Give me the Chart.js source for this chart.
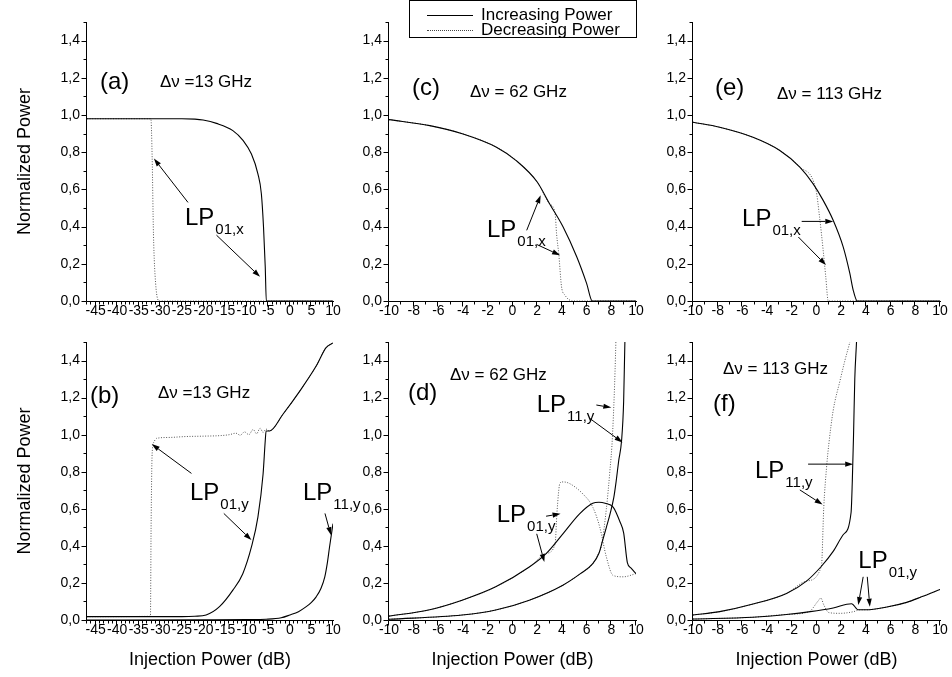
<!DOCTYPE html>
<html>
<head>
<meta charset="utf-8">
<title>Normalized Power vs Injection Power</title>
<style>
    body {
        margin: 0;
        background: #fff;
        font-family: 'Liberation Sans', Arial, sans-serif;
    }

    #fig {
        position: relative;
        width: 952px;
        height: 677px;
        overflow: hidden;
        background: #fff;
    }

    #fig canvas {
        position: absolute;
    }

    .legend {
        position: absolute;
        left: 409px;
        top: 0;
        width: 228px;
        height: 38px;
        box-sizing: border-box;
        border: 1px solid #000;
        background: #fff;
        font-size: 17px;
        color: #000;
        z-index: 10;
    }

    .legend .row {
        position: absolute;
        left: 0;
        height: 16px;
        line-height: 16px;
        white-space: nowrap;
    }

    .legend .ln {
        display: inline-block;
        width: 46px;
        margin: 0 8px 0 17px;
        vertical-align: middle;
        border-top: 1px solid #000;
    }

    .legend .ln.dot {
        border-top: 1px dotted #444;
    }
</style>
</head>
<body>
<div id="fig">
    <canvas id="pa" width="373" height="330" style="left:0;top:0"></canvas>
    <canvas id="pc" width="374" height="330" style="left:302px;top:0"></canvas>
    <canvas id="pe" width="346" height="330" style="left:606px;top:0"></canvas>
    <canvas id="pb" width="373" height="357" style="left:0;top:320px"></canvas>
    <canvas id="pd" width="374" height="357" style="left:302px;top:320px"></canvas>
    <canvas id="pf" width="346" height="357" style="left:606px;top:320px"></canvas>
    <div class="legend">
        <div class="row" style="top:6px"><span class="ln"></span>Increasing Power</div>
        <div class="row" style="top:21px"><span class="ln dot"></span>Decreasing Power</div>
    </div>
</div>

<script src="https://cdn.jsdelivr.net/npm/chart.js@4.4.1/dist/chart.umd.min.js"></script>
<script>
    // ---- tick labels ----
    const yTicks = [0, 0.2, 0.4, 0.6, 0.8, 1.0, 1.2, 1.4];
    const xTicksWide = [-45, -40, -35, -30, -25, -20, -15, -10, -5, 0, 5, 10];
    const xTicksNarrow = [-10, -8, -6, -4, -2, 0, 2, 4, 6, 8, 10];

    // ---- (a) 13 GHz, LP01,x ----
    const aUp = [[-47, 0.98], [-25, 0.98], [-22, 0.978], [-20.1, 0.973], [-17, 0.955], [-13.2, 0.916], [-10.8, 0.862],
        [-8.9, 0.79], [-7.4, 0.684], [-6.6, 0.577], [-6.1, 0.398], [-5.7, 0.184], [-5.45, 0], [10, 0]];
    const aDown = [[-47, 0.98], [-32.2, 0.98], [-31.9, 0.77], [-31.6, 0.36], [-31.1, 0.095], [-30.2, 0], [10, 0]];

    // ---- (b) 13 GHz, LP01,y and LP11,y ----
    const b01Up = [[-47, 0.018], [-25, 0.018], [-22, 0.02], [-19.4, 0.027], [-16.3, 0.072], [-13.2, 0.161], [-10.9, 0.25],
        [-8.9, 0.394], [-7.4, 0.555], [-6.2, 0.788], [-5.7, 0.967], [-5.5, 1.02], [-4.7, 1.02], [-1.6, 1.11],
        [2.3, 1.235], [6.1, 1.37], [8.4, 1.47], [10, 1.495]];
    const b01Down = [[-47, 0.018], [-32.3, 0.02], [-32.15, 0.5], [-31.9, 0.9], [-31.5, 0.96], [-30.9, 0.98], [-28, 0.985],
        [-24, 0.99], [-20, 0.992], [-16, 0.995], [-14, 1.0], [-12.5, 1.008], [-11.5, 0.997], [-10.5, 1.015], [-9.5, 1.0],
        [-8.5, 1.028], [-7.7, 1.005], [-6.9, 1.035], [-6.2, 1.012], [-5.5, 1.03], [-4.7, 1.02], [-1.6, 1.11],
        [2.3, 1.235], [6.1, 1.37], [8.4, 1.47], [10, 1.495]];
    const b11Up = [[-47, 0], [-20, 0.001], [-10, 0.002], [-5.5, 0.004], [-2, 0.012], [0, 0.027], [2, 0.045], [3.8, 0.072],
        [5, 0.095], [6.1, 0.125], [7.2, 0.17], [8.1, 0.233], [8.7, 0.31], [9.2, 0.394], [10, 0.52]];

    // ---- (c) 62 GHz, LP01,x ----
    const cUp = [[-10, 0.975], [-6.7, 0.943], [-4, 0.898], [-1.3, 0.827], [0.3, 0.755], [2, 0.64], [3, 0.523],
        [4.1, 0.398], [5.2, 0.238], [6, 0.095], [6.46, 0], [10, 0]];
    const cDown = [[-10, 0.975], [-6.7, 0.943], [-4, 0.898], [-1.3, 0.827], [0.3, 0.755], [2, 0.64], [3, 0.523],
        [3.45, 0.47], [3.57, 0.36], [3.75, 0.25], [3.97, 0.077], [4.24, 0.032], [4.9, 0], [10, 0]];

    // ---- (d) 62 GHz, LP01,y and LP11,y ----
    const d01Up = [[-10, 0.021], [-6.8, 0.054], [-4.08, 0.107], [-1.36, 0.179], [1.36, 0.286], [2.72, 0.358], [4.08, 0.465],
        [5.43, 0.573], [6.5, 0.63], [7, 0.635], [7.5, 0.63], [8.15, 0.609], [8.7, 0.53], [9, 0.47], [9.3, 0.31],
        [9.6, 0.28], [10, 0.25]];
    const d01Down = [[-10, 0.021], [-6.8, 0.054], [-4.08, 0.107], [-1.36, 0.179], [1.36, 0.286], [2.72, 0.358],
        [3.45, 0.41], [3.6, 0.58], [3.85, 0.74], [4.1, 0.745], [4.6, 0.737], [5.7, 0.68], [6.5, 0.609], [7.07, 0.5],
        [7.6, 0.34], [8.15, 0.24], [8.97, 0.233], [10, 0.25]];
    const d11Up = [[-10, 0.004], [-4.08, 0.027], [-1.36, 0.054], [1.36, 0.107], [4.08, 0.188], [5.5, 0.25], [6.5, 0.304],
        [7, 0.36], [7.3, 0.43], [7.6, 0.5], [7.9, 0.573], [8.2, 0.66], [8.4, 0.752], [8.6, 0.86], [8.83, 0.967],
        [9, 1.18], [9.1, 1.5], [9.15, 1.6]];
    const d11Down = [[-10, 0.004], [-4.08, 0.027], [-1.36, 0.054], [1.36, 0.107], [4.08, 0.188], [5.5, 0.25], [6.5, 0.304],
        [6.9, 0.35], [7.2, 0.4], [7.6, 0.6], [7.88, 0.8], [8.1, 1.0], [8.37, 1.5], [8.4, 1.6]];

    // ---- (e) 113 GHz, LP01,x ----
    const eUp = [[-10, 0.961], [-7.84, 0.934], [-5.14, 0.88], [-2.97, 0.809], [-1.35, 0.72], [-0.27, 0.63], [0.54, 0.541],
        [1.35, 0.434], [2.16, 0.291], [2.7, 0.148], [2.97, 0.059], [3.3, 0], [10, 0]];
    const eDown = [[-10, 0.961], [-7.84, 0.934], [-5.14, 0.88], [-2.97, 0.809], [-1.35, 0.72], [-0.05, 0.6], [0.25, 0.45],
        [0.54, 0.273], [0.75, 0.13], [0.95, 0], [10, 0]];

    // ---- (f) 113 GHz, LP11,y and LP01,y ----
    const f11Up = [[-10, 0.027], [-7.84, 0.045], [-5.14, 0.086], [-2.43, 0.143], [-0.81, 0.21], [0.4, 0.29], [1.35, 0.37],
        [2.16, 0.46], [2.8, 0.58], [2.9, 0.75], [3.0, 1.0], [3.1, 1.3], [3.24, 1.5], [3.3, 1.6]];
    const f11Down = [[-10, 0.027], [-7.84, 0.045], [-5.14, 0.086], [-2.43, 0.143], [-0.81, 0.21], [0.4, 0.29],
        [0.59, 0.61], [0.81, 0.82], [1.0, 0.95], [1.35, 1.13], [1.9, 1.29], [2.3, 1.4], [2.7, 1.5], [2.8, 1.53]];
    const f01Up = [[-10, 0.005], [-5.14, 0.015], [-2.43, 0.03], [-0.5, 0.045], [1.35, 0.065], [2.84, 0.088],
        [3.38, 0.055], [4, 0.055], [5.7, 0.07], [7.3, 0.095], [8.5, 0.125], [10, 0.165]];
    const f01Down = [[-10, 0.005], [-5.14, 0.015], [-2.43, 0.03], [-0.6, 0.045], [0.1, 0.1], [0.35, 0.118], [0.6, 0.08],
        [1.0, 0.04], [1.9, 0.036], [3.0, 0.045], [3.5, 0.055], [4, 0.055], [5.7, 0.07], [7.3, 0.095], [8.5, 0.125],
        [10, 0.165]];

    // ---- labels and arrows, in data units ----
    const notesA = [
        {text: '(a)', x: -44, y: 1.177, size: 24},
        {text: 'Δν =13 GHz', x: -30.1, y: 1.177, size: 17},
        {lp: '01,x', x: -24.3, y: 0.409},
        {from: [-23.6, 0.53], to: [-31.5, 0.766]},
        {from: [-17.0, 0.354], to: [-6.9, 0.13]}
    ];
    const notesB = [
        {text: '(b)', x: -46.3, y: 1.204, size: 24},
        {text: 'Δν =13 GHz', x: -30.55, y: 1.222, size: 17},
        {lp: '01,y', x: -23.14, y: 0.647},
        {from: [-22.8, 0.791], to: [-32.0, 0.949]},
        {from: [-15.3, 0.575], to: [-8.9, 0.431]},
        {lp: '11,y', x: 3.05, y: 0.647},
        {from: [8.14, 0.575], to: [9.53, 0.458]}
    ];
    const notesC = [
        {text: '(c)', x: -8.14, y: 1.145, size: 24},
        {text: 'Δν = 62 GHz', x: -3.44, y: 1.12, size: 17},
        {lp: '01,x', x: -2.07, y: 0.344},
        {from: [1.15, 0.38], to: [2.28, 0.568]},
        {from: [1.96, 0.304], to: [3.85, 0.246]}
    ];
    const notesD = [
        {text: '(d)', x: -8.46, y: 1.222, size: 24},
        {text: 'Δν = 62 GHz', x: -5.06, y: 1.32, size: 17},
        {lp: '11,y', x: 1.96, y: 1.123},
        {from: [6.79, 1.16], to: [8.0, 1.146]},
        {from: [6.25, 1.088], to: [8.91, 0.958]},
        {lp: '01,y', x: -1.28, y: 0.53},
        {from: [2.72, 0.56], to: [3.89, 0.573]},
        {from: [1.96, 0.465], to: [2.58, 0.313]}
    ];
    const notesE = [
        {text: '(e)', x: -8.22, y: 1.145, size: 24},
        {text: 'Δν = 113 GHz', x: -3.2, y: 1.11, size: 17},
        {lp: '01,x', x: -6.03, y: 0.403},
        {from: [-1.2, 0.428], to: [1.36, 0.428]},
        {from: [-1.47, 0.344], to: [0.77, 0.193]}
    ];
    const notesF = [
        {text: '(f)', x: -8.38, y: 1.164, size: 24},
        {text: 'Δν = 113 GHz', x: -7.57, y: 1.353, size: 17},
        {lp: '11,y', x: -4.98, y: 0.765},
        {from: [-0.68, 0.841], to: [2.97, 0.841]},
        {from: [-1.35, 0.702], to: [0.49, 0.623]},
        {lp: '01,y', x: 3.39, y: 0.278},
        {from: [3.78, 0.233], to: [3.38, 0.081]},
        {from: [4.11, 0.233], to: [4.32, 0.072]}
    ];

    const FONT = '"Liberation Sans", Arial, sans-serif';

    // narrow face for the axis titles if there is one
    const probe = document.createElement('canvas').getContext('2d');
    probe.font = '20px "Liberation Sans"';
    const wideW = probe.measureText('Injection Power').width;
    probe.font = '20px "Liberation Sans Narrow", "Liberation Sans"';
    const hasNarrow = probe.measureText('Injection Power').width < wideW * 0.95;
    const titleFont = hasNarrow
        ? {family: '"Liberation Sans Narrow", "Liberation Sans", Arial, sans-serif', size: 22}
        : {family: FONT, size: 18};

    Chart.defaults.font.family = FONT;
    Chart.defaults.color = '#000';

    function drawArrow(ctx, x1, y1, x2, y2) {
        const ang = Math.atan2(y2 - y1, x2 - x1);
        const len = 8, half = 2.6;
        const bx = x2 - len * Math.cos(ang);
        const by = y2 - len * Math.sin(ang);
        ctx.beginPath();
        ctx.moveTo(x1, y1);
        ctx.lineTo(bx, by);
        ctx.stroke();
        ctx.beginPath();
        ctx.moveTo(x2, y2);
        ctx.lineTo(bx + half * Math.sin(ang), by - half * Math.cos(ang));
        ctx.lineTo(bx - half * Math.sin(ang), by + half * Math.cos(ang));
        ctx.closePath();
        ctx.fill();
    }

    function notesPlugin(items) {
        return {
            id: 'notes',
            afterDatasetsDraw(chart) {
                const {ctx, scales: {x, y}} = chart;
                ctx.save();
                ctx.fillStyle = '#000';
                ctx.strokeStyle = '#000';
                ctx.lineWidth = 1;
                items.forEach(n => {
                    if (n.from) {
                        drawArrow(ctx,
                            x.getPixelForValue(n.from[0]), y.getPixelForValue(n.from[1]),
                            x.getPixelForValue(n.to[0]), y.getPixelForValue(n.to[1]));
                        return;
                    }
                    const px = x.getPixelForValue(n.x);
                    const py = y.getPixelForValue(n.y);
                    ctx.textAlign = 'left';
                    if (n.lp) {
                        ctx.textBaseline = 'alphabetic';
                        ctx.font = '24px ' + FONT;
                        ctx.fillText('LP', px, py);
                        const w = ctx.measureText('LP').width;
                        ctx.font = '15px ' + FONT;
                        ctx.fillText(n.lp, px + w + 1, py + 9);
                    } else {
                        ctx.textBaseline = 'middle';
                        ctx.font = n.size + 'px ' + FONT;
                        ctx.fillText(n.text, px, py);
                    }
                });
                ctx.restore();
            }
        };
    }

    // Origin-like axes: left and bottom lines, outward major and minor ticks
    function axesPlugin(xMajor) {
        return {
            id: 'originAxes',
            afterDraw(chart) {
                const {ctx, chartArea: a, scales: {x, y}} = chart;
                ctx.save();
                ctx.strokeStyle = '#000';
                ctx.lineWidth = 1;
                ctx.beginPath();
                const lx = Math.round(a.left) - 0.5;
                const by = Math.round(a.bottom) + 0.5;
                ctx.moveTo(lx, Math.round(a.top));
                ctx.lineTo(lx, by);
                ctx.lineTo(Math.round(a.right) + 1, by);
                for (let v = Math.ceil(x.min); v <= x.max; v++) {
                    const px = Math.round(x.getPixelForValue(v)) - 0.5;
                    ctx.moveTo(px, by);
                    ctx.lineTo(px, by + (xMajor.includes(v) ? 5 : 3));
                }
                for (let k = 0; k <= 15; k++) {
                    const py = Math.round(y.getPixelForValue(k / 10)) + 0.5;
                    ctx.moveTo(lx, py);
                    ctx.lineTo(lx - (k % 2 === 0 ? 5 : 3), py);
                }
                ctx.stroke();
                ctx.restore();
            }
        };
    }

    function solid(pts) {
        return {
            data: pts.map(([x, y]) => ({x, y})),
            borderColor: '#000',
            borderWidth: 1.1,
            pointRadius: 0,
            cubicInterpolationMode: 'monotone'
        };
    }

    function dotted(pts) {
        return {
            data: pts.map(([x, y]) => ({x, y})),
            borderColor: '#555',
            borderWidth: 1,
            borderDash: [1, 1.6],
            pointRadius: 0,
            cubicInterpolationMode: 'monotone'
        };
    }

    function makePanel(id, p) {
        const bottomRow = p.row === 1;
        const xHeight = bottomRow ? 57 : 29;
        new Chart(document.getElementById(id), {
            type: 'line',
            data: {datasets: p.datasets},
            options: {
                responsive: false,
                animation: false,
                layout: {padding: {top: 22, right: p.padRight, bottom: 0, left: 0}},
                plugins: {legend: {display: false}, tooltip: {enabled: false}},
                scales: {
                    x: {
                        type: 'linear',
                        min: p.xMin,
                        max: 10,
                        grid: {display: false, drawTicks: false},
                        border: {display: false},
                        ticks: {
                            autoSkip: false, maxRotation: 0, minRotation: 0, padding: 2,
                            font: {size: 14}, color: '#000',
                            callback: v => String(v)
                        },
                        afterBuildTicks: s => { s.ticks = p.xTicks.map(v => ({value: v})); },
                        afterFit: s => { s.height = xHeight; s.paddingLeft = 0; s.paddingRight = 0; },
                        title: {
                            display: bottomRow,
                            text: 'Injection Power (dB)',
                            color: '#000',
                            font: titleFont,
                            padding: {top: 0, bottom: 17 - titleFont.size * 0.6}
                        }
                    },
                    y: {
                        type: 'linear',
                        min: 0,
                        max: 1.5,
                        grid: {display: false, drawTicks: false},
                        border: {display: false},
                        ticks: {
                            padding: 7, font: {size: 14}, color: '#000',
                            callback: v => v.toFixed(1).replace('.', ',')
                        },
                        afterBuildTicks: s => { s.ticks = yTicks.map(v => ({value: v})); },
                        afterFit: s => { s.width = 87; s.paddingTop = 0; s.paddingBottom = 0; },
                        title: {
                            display: p.yTitle,
                            text: 'Normalized Power',
                            color: '#000',
                            font: titleFont,
                            padding: {top: 25 - titleFont.size * 0.6, bottom: 0}
                        }
                    }
                }
            },
            plugins: [axesPlugin(p.xTicks), notesPlugin(p.notes)]
        });
    }

    makePanel('pa', {row: 0, xMin: -47, xTicks: xTicksWide, yTitle: true, padRight: 40,
        datasets: [solid(aUp), dotted(aDown)], notes: notesA});
    makePanel('pc', {row: 0, xMin: -10, xTicks: xTicksNarrow, yTitle: false, padRight: 40,
        datasets: [solid(cUp), dotted(cDown)], notes: notesC});
    makePanel('pe', {row: 0, xMin: -10, xTicks: xTicksNarrow, yTitle: false, padRight: 12,
        datasets: [solid(eUp), dotted(eDown)], notes: notesE});
    makePanel('pb', {row: 1, xMin: -47, xTicks: xTicksWide, yTitle: true, padRight: 40,
        datasets: [solid(b01Up), solid(b11Up), dotted(b01Down)], notes: notesB});
    makePanel('pd', {row: 1, xMin: -10, xTicks: xTicksNarrow, yTitle: false, padRight: 40,
        datasets: [solid(d01Up), solid(d11Up), dotted(d01Down), dotted(d11Down)], notes: notesD});
    makePanel('pf', {row: 1, xMin: -10, xTicks: xTicksNarrow, yTitle: false, padRight: 12,
        datasets: [solid(f11Up), solid(f01Up), dotted(f11Down), dotted(f01Down)], notes: notesF});
</script>
</body>
</html>
